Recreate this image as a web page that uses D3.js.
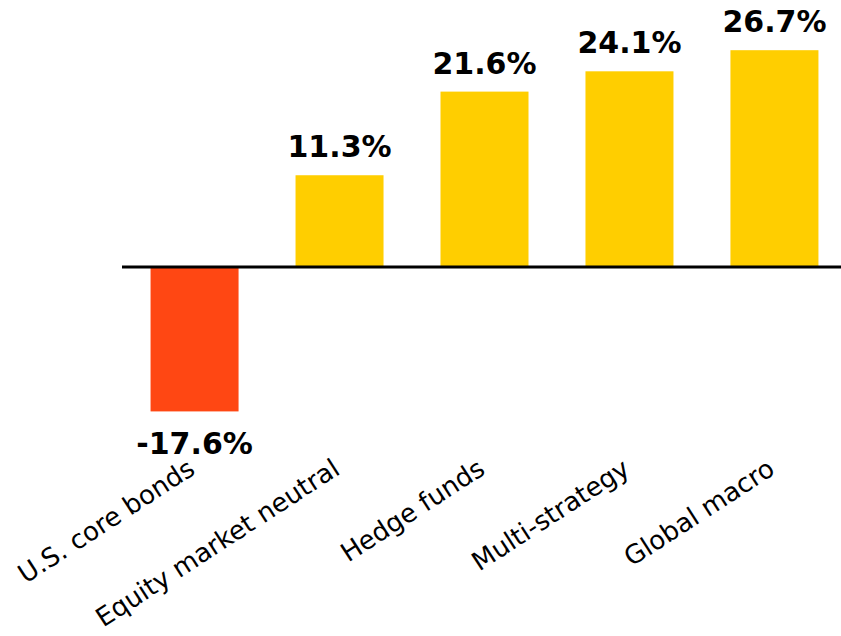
<!DOCTYPE html>
<html>
<head>
<meta charset="utf-8">
<script src="https://cdn.jsdelivr.net/npm/d3@7"></script>
<style>
  html, body { margin: 0; padding: 0; background: #fff; }
  svg { display: block; }
</style>
</head>
<body>
<div id="chart"></div>
<script>
const categories = ["U.S. core bonds", "Equity market neutral", "Hedge funds", "Multi-strategy", "Global macro"];
const values = [-17.6, 11.3, 21.6, 24.1, 26.7];
const valueLabels = ["-17.6%", "11.3%", "21.6%", "24.1%", "26.7%"];

const W = 841, H = 636;
const svg = d3.select("#chart").append("svg").attr("width", W).attr("height", H);

const data = categories.map((c, i) => ({ c, v: values[i], label: valueLabels[i] }));

const x = d3.scaleBand().domain(categories).range([122, 847]).paddingInner(0.393).paddingOuter(0.197);
const y = d3.scaleLinear().domain([-20, 30]).range([429.4, 23.4]);

svg.selectAll("rect.bar").data(data).enter().append("rect")
  .attr("class", "bar")
  .attr("x", d => x(d.c))
  .attr("width", x.bandwidth())
  .attr("y", d => d.v >= 0 ? y(d.v) : y(0))
  .attr("height", d => Math.abs(y(d.v) - y(0)) + (d.v < 0 ? 1.5 : 0))
  .attr("fill", d => d.v >= 0 ? "#FFCE00" : "#FF4713");

// zero line
svg.append("line")
  .attr("x1", 122).attr("x2", W)
  .attr("y1", y(0)).attr("y2", y(0))
  .attr("stroke", "#000").attr("stroke-width", 3);

// value labels
svg.selectAll("text.val").data(data).enter().append("text")
  .attr("class", "val")
  .attr("x", d => x(d.c) + x.bandwidth() / 2)
  .attr("y", d => d.v >= 0 ? y(d.v) - 18 : y(d.v) + 44)
  .attr("text-anchor", "middle")
  .attr("font-family", "DejaVu Sans")
  .attr("font-weight", "bold")
  .attr("font-size", 30)
  .attr("fill", "#000")
  .text(d => d.label);

// category labels (rotated)
svg.selectAll("text.cat").data(data).enter().append("text")
  .attr("class", "cat")
  .attr("text-anchor", "end")
  .attr("transform", d => `translate(${x(d.c) + x.bandwidth() / 2 + 2},473) rotate(-33)`)
  .attr("font-family", "DejaVu Sans")
  .attr("font-size", 26)
  .attr("fill", "#000")
  .text(d => d.c);
</script>
</body>
</html>
